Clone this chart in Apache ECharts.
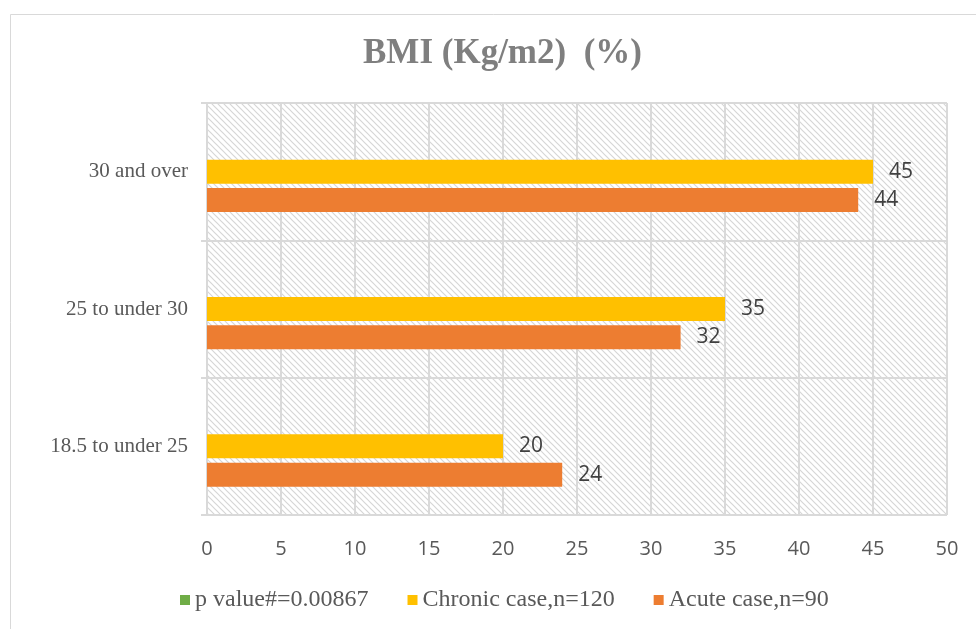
<!DOCTYPE html>
<html>
<head>
<meta charset="utf-8">
<script src="https://cdn.jsdelivr.net/npm/echarts@6/dist/echarts.min.js"></script>
<style>
  html, body { margin: 0; padding: 0; background: #ffffff; }
  #chart { width: 976px; height: 629px; }
</style>
</head>
<body>
<div id="chart"></div>
<script>
// BMI groups, listed bottom to top on the vertical axis
const categories = ['18.5 to under 25', '25 to under 30', '30 and over'];
const seriesNames = ['p value#=0.00867', 'Chronic case,n=120', 'Acute case,n=90'];
const pValueValues = [];              // legend-only entry, no bars
const chronicValues = [20, 35, 45];
const acuteValues = [24, 32, 44];
const xTicks = [0, 5, 10, 15, 20, 25, 30, 35, 40, 45, 50];

// Diagonal hatch tile for the plot background
function hatchTile() {
  const c = document.createElement('canvas');
  c.width = 6; c.height = 6;
  const g = c.getContext('2d');
  g.fillStyle = '#ffffff';
  g.fillRect(0, 0, 6, 6);
  g.strokeStyle = '#d6d6d6';
  g.lineWidth = 1.2;
  g.beginPath();
  g.moveTo(-1, -1); g.lineTo(7, 7);
  g.moveTo(-4, 2); g.lineTo(4, 10);
  g.moveTo(2, -4); g.lineTo(10, 4);
  g.stroke();
  return c;
}

const serif = '"Liberation Serif", "Times New Roman", serif';
const sans = '"Open Sans", "Liberation Sans", sans-serif';

const chart = echarts.init(document.getElementById('chart'));
chart.setOption({
  animation: false,
  backgroundColor: '#ffffff',
  textStyle: { fontFamily: serif },
  title: {
    text: 'BMI (Kg/m2)  (%)',
    left: 358,
    top: 31,
    textStyle: { fontFamily: serif, fontWeight: 'bold', fontSize: 35, color: '#7f7f7f' }
  },
  graphic: [{
    type: 'rect',
    z: -10,
    shape: { x: 10.5, y: 14.5, width: 1000, height: 700 },
    style: { fill: 'none', stroke: '#d9d9d9', lineWidth: 1 }
  }],
  legend: {
    bottom: 12,
    left: 175,
    itemWidth: 10,
    itemHeight: 10,
    itemGap: 39,
    icon: 'rect',
    data: seriesNames,
    formatter: name => '{t|' + name + '}',
    textStyle: {
      fontFamily: serif, fontSize: 24, color: '#595959',
      rich: { t: { fontFamily: serif, fontSize: 24, color: '#595959' } }
    }
  },
  grid: {
    left: 207, right: 29, top: 103, bottom: 114,
    show: true,
    borderWidth: 0,
    backgroundColor: { image: hatchTile(), repeat: 'repeat' }
  },
  xAxis: {
    type: 'value',
    min: 0, max: 50, interval: 5,
    axisLine: { show: false },
    axisTick: { show: false },
    axisLabel: {
      margin: 24,
      fontFamily: sans, fontSize: 20, color: '#595959',
      formatter: v => (xTicks.includes(v) ? String(v) : '')
    },
    splitLine: { show: true, lineStyle: { color: '#d9d9d9', width: 2 } }
  },
  yAxis: {
    type: 'category',
    data: categories,
    axisLine: { show: true, lineStyle: { color: '#d9d9d9', width: 2 } },
    axisTick: { show: true, length: 6, lineStyle: { color: '#d9d9d9', width: 2 } },
    axisLabel: { margin: 19, fontFamily: serif, fontSize: 21, color: '#595959' },
    splitLine: { show: true, lineStyle: { color: '#d9d9d9', width: 2 } }
  },
  series: [
    {
      name: seriesNames[0], type: 'bar', data: pValueValues,
      itemStyle: { color: '#70ad47' }, barWidth: 24, barGap: '18%'
    },
    {
      name: seriesNames[1], type: 'bar', data: chronicValues,
      itemStyle: { color: '#ffc000' }, barWidth: 24, barGap: '18%',
      label: { show: true, position: 'right', distance: 16, fontFamily: sans, fontSize: 21, color: '#404040' }
    },
    {
      name: seriesNames[2], type: 'bar', data: acuteValues,
      itemStyle: { color: '#ed7d31' }, barWidth: 24, barGap: '18%',
      label: { show: true, position: 'right', distance: 16, fontFamily: sans, fontSize: 21, color: '#404040' }
    }
  ]
});
</script>
</body>
</html>
